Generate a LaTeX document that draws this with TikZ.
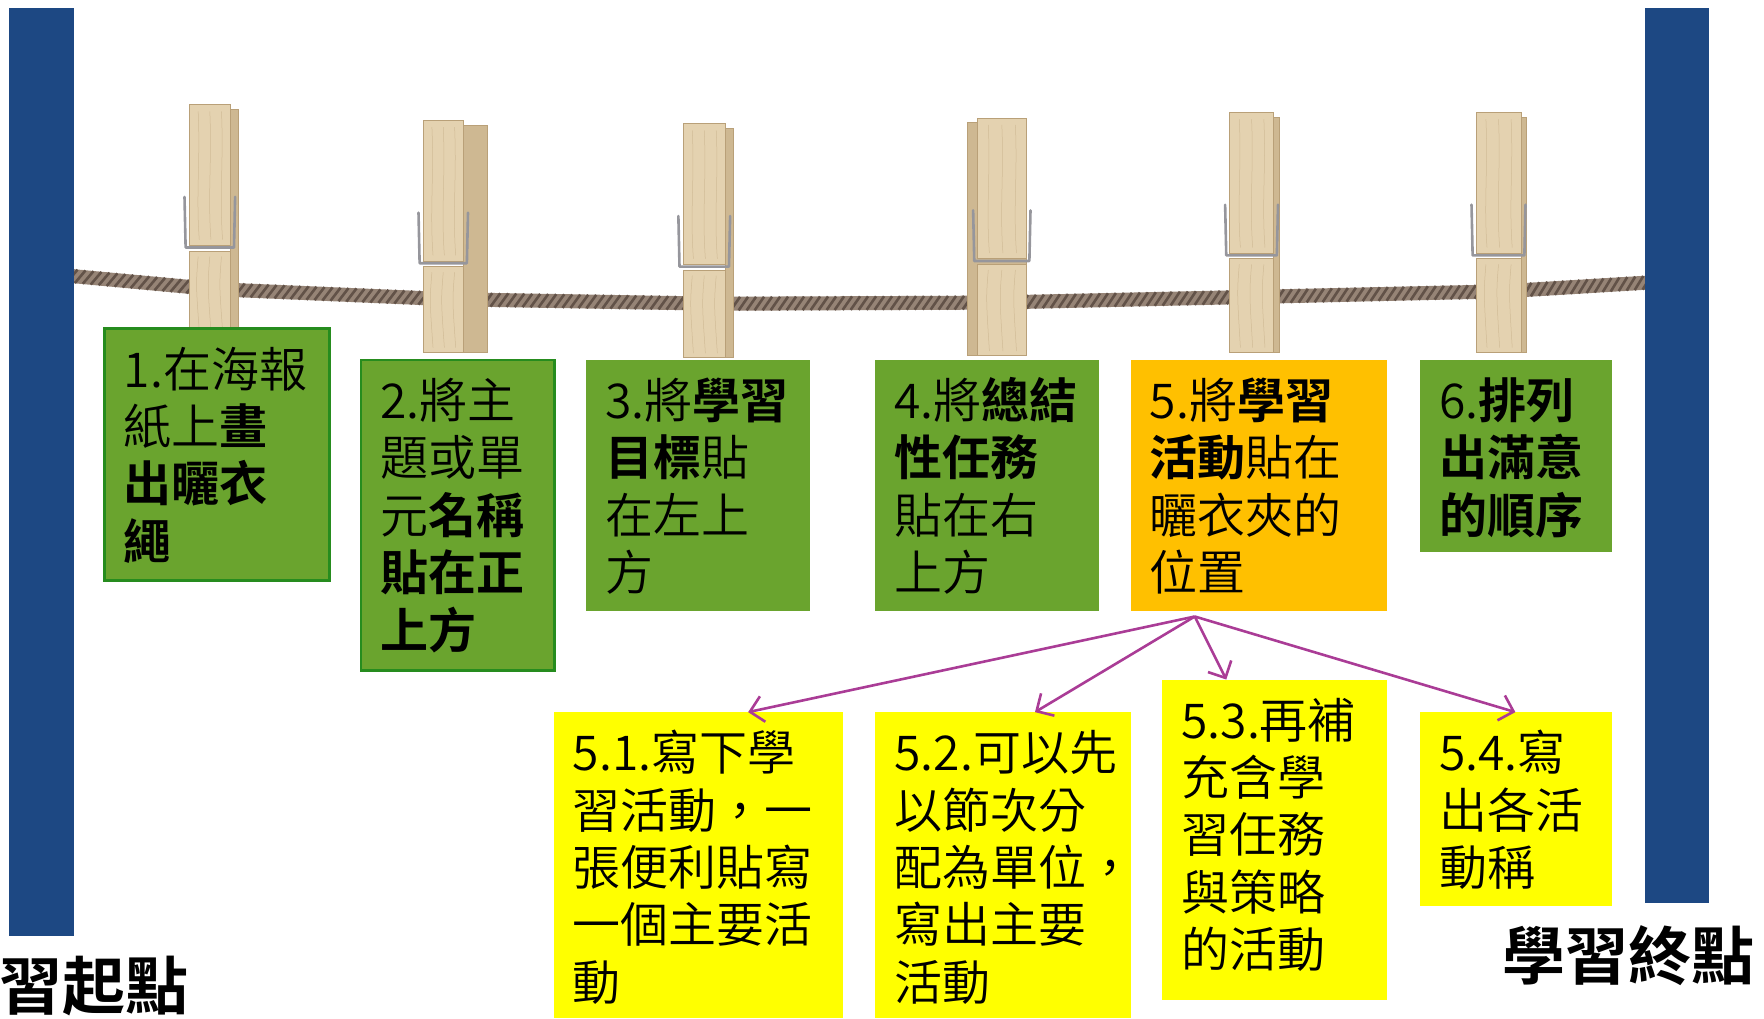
\documentclass[tikz,border=0pt]{standalone}
\usepackage{fontspec}
\setmainfont{Noto Sans CJK TC DemiLight}[BoldFont={Noto Sans CJK TC Bold}]
\usetikzlibrary{fit,calc,arrows.meta,decorations.pathreplacing}
\definecolor{cardgreen}{RGB}{106,164,46}
\definecolor{cardborder}{RGB}{38,140,30}
\definecolor{cardorange}{RGB}{255,192,0}
\definecolor{cardyellow}{RGB}{255,255,0}
\definecolor{poleblue}{RGB}{29,72,131}
\definecolor{arrowmag}{RGB}{170,60,150}
\definecolor{woodfront}{RGB}{228,210,176}
\definecolor{woodside}{RGB}{206,184,146}
\definecolor{woodedge}{RGB}{185,160,120}
\definecolor{ropebase}{RGB}{150,132,118}
\definecolor{ropedark}{RGB}{98,82,72}
\definecolor{springgray}{RGB}{150,150,156}
\newcommand\cardlines[1]{\parbox[t]{400pt}{\raggedright #1}}
\newcommand\clothespin[5]{%
  \fill[woodside] (#2,{#4+4}) rectangle (#3,#5);
  \draw[woodline] (#2,{#4+4}) rectangle (#3,#5);
  \fill[woodfront] (#1,#4) rectangle (#2,{#4+125});
  \fill[woodfront] (#1,{#4+130}) rectangle (#2,#5);
  \draw[woodline] (#1,#4) rectangle (#2,{#4+125});
  \draw[woodline] (#1,{#4+130}) rectangle (#2,#5);
  \foreach \g in {0.22,0.5,0.78} {
    \draw[grain] ({#1+\g*(#2-#1)},{#4+6}) .. controls ({#1+\g*(#2-#1)+2},{#4+50}) and ({#1+\g*(#2-#1)-2},{#4+80}) .. ({#1+\g*(#2-#1)+1},{#4+120});
    \draw[grain] ({#1+\g*(#2-#1)},{#4+135}) .. controls ({#1+\g*(#2-#1)-2},{#4+160}) .. ({#1+\g*(#2-#1)+1},{#5-4});
  }
  \draw[springline] ({#1-4},{#4+82}) -- ({#1-3},{#4+127}) -- ({#2+3},{#4+127}) -- ({#2+4},{#4+82});
}
\begin{document}
\begin{tikzpicture}[x=1.125pt,y=-1.125pt,
  card/.style={inner sep=0pt, outer sep=0pt},
  greencard/.style={card, fill=cardgreen},
  bordcard/.style={greencard, draw=cardborder, line width=2.5pt},
  orangecard/.style={card, fill=cardorange},
  yellowcard/.style={card, fill=cardyellow},
  cardtext/.style={anchor=base west, inner sep=0pt, font=\fontsize{48}{57.4}\selectfont},
  endlabel/.style={anchor=base west, inner sep=0pt, font=\fontsize{63}{70}\selectfont\bfseries},
  flow/.style={draw=arrowmag, line width=2.6pt, -{Straight Barb[length=13pt,width=26pt]}},
  woodline/.style={draw=woodedge, line width=0.6pt},
  grain/.style={draw=woodedge, line width=0.5pt, opacity=0.45},
  springline/.style={draw=springgray, line width=2.6pt, line join=round, line cap=round}
]
\useasboundingbox (0,0) rectangle (1568,905);
% rope
\draw[draw=ropebase, line width=14pt] (60,245) -- (190,257) -- (400,266) -- (640,270) -- (880,269) -- (1110,264) -- (1335,259) -- (1468,251);
\draw[draw=ropedark, line width=2.6pt, decorate, decoration={border, segment length=8pt, amplitude=16.5pt, angle=55, raise=-6.7pt}] (60,245) -- (190,257) -- (400,266) -- (640,270) -- (880,269) -- (1110,264) -- (1335,259) -- (1468,251);
% poles
\fill[poleblue] (8,7) rectangle (66,832);
\fill[poleblue] (1462,7) rectangle (1519,803);
% clothespins
\clothespin{168}{205}{212}{93}{298}
\clothespin{376}{412}{433}{107}{313}
\clothespin{607}{645}{652}{110}{318}
\clothespin{869}{912}{860}{105}{316}
\clothespin{1093}{1132}{1137}{100}{313}
\clothespin{1312}{1352}{1357}{100}{313}
% cards
\node[bordcard, fit={(93,292) (293,516)}] (b1) {};
\node[bordcard, fit={(321,320) (493,596)}] (b2) {};
\node[greencard, fit={(521,320) (720,543)}] (b3) {};
\node[greencard, fit={(778,320) (977,543)}] (b4) {};
\node[orangecard, fit={(1005,320) (1233,543)}] (b5) {};
\node[greencard, fit={(1262,320) (1433,491)}] (b6) {};
\node[yellowcard, fit={(492,633) (749,905)}] (b51) {};
\node[yellowcard, fit={(778,633) (1005,905)}] (b52) {};
\node[yellowcard, fit={(1033,604) (1233,889)}] (b53) {};
\node[yellowcard, fit={(1262,633) (1433,805)}] (b54) {};
% card texts
\node[cardtext] (t1) at ($(b1.north west)+(17,52)$) {\cardlines{1.在海報\\紙上\textbf{畫}\\\textbf{出曬衣}\\\textbf{繩}}};
\node[cardtext] (t2) at ($(b2.north west)+(17,52)$) {\cardlines{2.將主\\題或單\\元\textbf{名稱}\\\textbf{貼在正}\\\textbf{上方}}};
\node[cardtext] (t3) at ($(b3.north west)+(17,52)$) {\cardlines{3.將\textbf{學習}\\\textbf{目標}貼\\在左上\\方}};
\node[cardtext] (t4) at ($(b4.north west)+(17,52)$) {\cardlines{4.將\textbf{總結}\\\textbf{性任務}\\貼在右\\上方}};
\node[cardtext] (t5) at ($(b5.north west)+(17,52)$) {\cardlines{5.將\textbf{學習}\\\textbf{活動}貼在\\曬衣夾的\\位置}};
\node[cardtext] (t6) at ($(b6.north west)+(17,52)$) {\cardlines{6.\textbf{排列}\\\textbf{出滿意}\\\textbf{的順序}}};
\node[cardtext] (t51) at ($(b51.north west)+(17,52)$) {\cardlines{5.1.寫下學\\習活動，一\\張便利貼寫\\一個主要活\\動}};
\node[cardtext] (t52) at ($(b52.north west)+(17,52)$) {\cardlines{5.2.可以先\\以節次分\\配為單位，\\寫出主要\\活動}};
\node[cardtext] (t53) at ($(b53.north west)+(17,52)$) {\cardlines{5.3.再補\\充含學\\習任務\\與策略\\的活動}};
\node[cardtext] (t54) at ($(b54.north west)+(17,52)$) {\cardlines{5.4.寫\\出各活\\動稱}};
% arrows
\coordinate (fork) at ($(b5.south west)+(57,5)$);
\draw[flow] (fork) -- ($(b51.north west)+(173,0)$);
\draw[flow] (fork) -- ($(b52.north west)+(142,0)$);
\draw[flow] (fork) -- ($(b53.north west)+(57,0)$);
\draw[flow] (fork) -- ($(b54.north west)+(85,0)$);
% end labels
\node[endlabel] (startlbl) at (-1,897) {習起點};
\node[endlabel] (endlbl) at (1335,871) {學習終點};
\end{tikzpicture}
\end{document}
